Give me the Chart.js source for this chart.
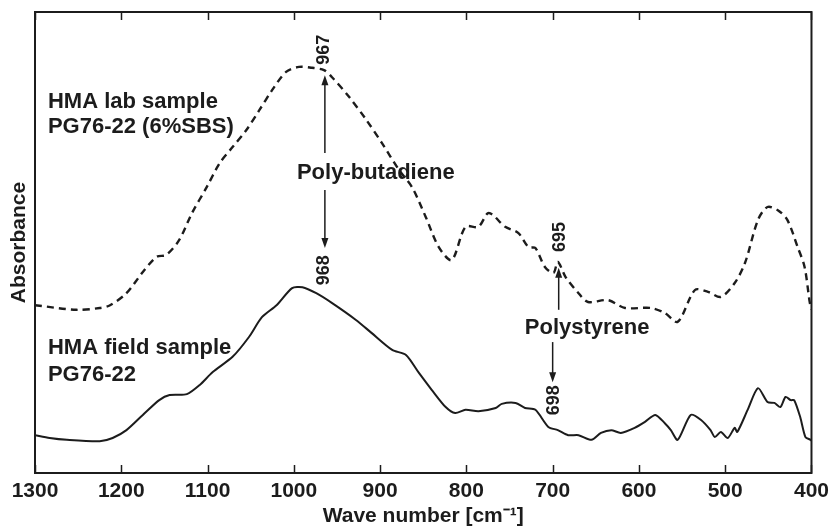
<!DOCTYPE html>
<html>
<head>
<meta charset="utf-8">
<script src="https://cdn.jsdelivr.net/npm/chart.js@4.4.1/dist/chart.umd.min.js"></script>
<style>
    body { margin: 0; background: #fff; }
    .wrap { width: 835px; height: 529px; }
</style>
</head>
<body>
<div class="wrap"><canvas id="ftir"></canvas></div>
<script>
    // wave numbers [cm-1] and absorbance (arbitrary units, 0-100)
    const labWave = [1300, 1252, 1225, 1213, 1194, 1175, 1159, 1148, 1133, 1118, 1101, 1086, 1071, 1055, 1040, 1025, 1009, 994, 979, 965, 956, 936, 916, 898, 878, 863, 847, 832, 817, 801, 786, 774, 755, 740, 728, 720, 709, 699, 694, 685, 670, 659, 636, 616, 586, 570, 555, 535, 520, 505, 489, 477, 462, 451, 439, 428, 416, 408, 402, 400];
    const labAbs = [36.4, 35.4, 35.8, 36.4, 39.0, 43.6, 46.9, 47.3, 50.5, 56.4, 62.0, 67.2, 70.7, 74.4, 78.7, 83.1, 87.0, 88.1, 87.9, 87.4, 85.9, 81.6, 76.6, 71.6, 65.7, 62.0, 55.5, 49.0, 46.2, 53.4, 53.4, 56.4, 53.4, 52.1, 49.0, 48.8, 44.7, 43.4, 45.8, 42.5, 39.0, 37.1, 37.5, 35.8, 35.8, 34.7, 32.8, 39.7, 39.3, 38.2, 41.2, 45.6, 54.9, 57.7, 57.0, 54.9, 49.0, 44.7, 37.0, 35.5];

    const fieldWave = [1300, 1283, 1263, 1225, 1210, 1194, 1175, 1156, 1144, 1124, 1109, 1094, 1071, 1052, 1037, 1020, 1002, 990, 974, 956, 928, 910, 886, 870, 855, 840, 824, 813, 801, 786, 766, 759, 743, 732, 720, 705, 694, 682, 670, 655, 644, 632, 621, 605, 593, 581, 570, 563, 555, 540, 528, 517, 512, 505, 497, 489, 486, 474, 462, 451, 443, 436, 430, 424, 420, 413, 407, 401, 400];
    const fieldAbs = [8.2, 7.6, 7.2, 6.9, 7.6, 9.3, 12.6, 15.8, 16.9, 17.1, 19.1, 21.9, 25.2, 29.5, 33.8, 36.4, 40.1, 40.3, 39.0, 36.9, 33.2, 30.4, 26.7, 25.6, 21.7, 18.0, 14.3, 13.0, 13.7, 13.4, 14.1, 15.0, 15.2, 14.1, 13.7, 10.0, 9.3, 8.2, 8.2, 7.2, 8.7, 9.3, 8.7, 9.8, 11.1, 12.6, 10.8, 9.3, 7.2, 12.6, 11.5, 9.3, 7.8, 8.9, 7.6, 9.8, 8.9, 13.7, 18.4, 15.4, 15.2, 14.3, 16.5, 15.8, 15.8, 12.1, 7.8, 7.2, 7.0];

    const xTicks = [1300, 1200, 1100, 1000, 900, 800, 700, 600, 500, 400];

    // text labels placed in data units [wave number, absorbance]
    const sampleLabels = [
        { text: "HMA lab sample", x: 1285, y: 80.5 },
        { text: "PG76-22 (6%SBS)", x: 1285, y: 75.0 },
        { text: "HMA field sample", x: 1285, y: 27.1 },
        { text: "PG76-22", x: 1285, y: 21.3 }
    ];
    const groupLabels = [
        { text: "Poly-butadiene", x: 905, y: 65.1 },
        { text: "Polystyrene", x: 660, y: 31.5 }
    ];
    const peakLabels = [
        { text: "967", x: 965, y: 91.8 },
        { text: "968", x: 965, y: 44.0 },
        { text: "695", x: 692, y: 51.2 },
        { text: "698", x: 698, y: 15.8 }
    ];
    // arrows: from [x, y0] to [x, y1], head at y1
    const arrows = [
        { x: 964, y0: 69.4, y1: 86.3 },
        { x: 964, y0: 61.4, y1: 48.8 },
        { x: 693, y0: 35.4, y1: 44.5 },
        { x: 700, y0: 28.4, y1: 19.7 }
    ];

    const ink = "#1c1c1c";
    const fontFam = "'Liberation Sans', Arial, sans-serif";

    function toPts(xs, ys) {
        return xs.map((v, i) => ({ x: v, y: ys[i] }));
    }

    const overlay = {
        id: "overlay",
        afterDatasetsDraw(chart) {
            const ctx = chart.ctx;
            const a = chart.chartArea;
            const xs = chart.scales.x, ys = chart.scales.y;
            ctx.save();
            // frame
            ctx.strokeStyle = ink;
            ctx.lineWidth = 2;
            ctx.strokeRect(a.left, a.top, a.right - a.left, a.bottom - a.top);
            // inward tick marks top and bottom
            ctx.lineWidth = 1.5;
            xTicks.forEach(t => {
                const px = Math.round(xs.getPixelForValue(t)) + 0.5;
                ctx.beginPath();
                ctx.moveTo(px, a.bottom);
                ctx.lineTo(px, a.bottom - 8);
                ctx.moveTo(px, a.top);
                ctx.lineTo(px, a.top + 8);
                ctx.stroke();
            });

            ctx.fillStyle = ink;
            ctx.textBaseline = "middle";
            ctx.font = "bold 22px " + fontFam;
            ctx.textAlign = "left";
            sampleLabels.forEach(l => {
                ctx.fillText(l.text, xs.getPixelForValue(l.x), ys.getPixelForValue(l.y));
            });
            ctx.textAlign = "center";
            groupLabels.forEach(l => {
                ctx.fillText(l.text, xs.getPixelForValue(l.x), ys.getPixelForValue(l.y));
            });
            ctx.font = "bold 18px " + fontFam;
            peakLabels.forEach(l => {
                ctx.save();
                ctx.translate(xs.getPixelForValue(l.x), ys.getPixelForValue(l.y));
                ctx.rotate(-Math.PI / 2);
                ctx.fillText(l.text, 0, 0);
                ctx.restore();
            });

            ctx.lineWidth = 1.5;
            arrows.forEach(ar => {
                const px = xs.getPixelForValue(ar.x);
                const p0 = ys.getPixelForValue(ar.y0);
                const p1 = ys.getPixelForValue(ar.y1);
                const dir = p1 < p0 ? -1 : 1;
                ctx.beginPath();
                ctx.moveTo(px, p0);
                ctx.lineTo(px, p1 - dir * 6);
                ctx.stroke();
                ctx.beginPath();
                ctx.moveTo(px, p1);
                ctx.lineTo(px - 3.5, p1 - dir * 10);
                ctx.lineTo(px + 3.5, p1 - dir * 10);
                ctx.closePath();
                ctx.fill();
            });
            ctx.restore();
        }
    };

    new Chart(document.getElementById("ftir"), {
        type: "line",
        data: {
            datasets: [{
                label: "HMA lab sample PG76-22 (6%SBS)",
                data: toPts(labWave, labAbs),
                borderColor: ink,
                borderWidth: 2.4,
                borderDash: [7, 5],
                pointRadius: 0,
                tension: 0.3,
                fill: false
            }, {
                label: "HMA field sample PG76-22",
                data: toPts(fieldWave, fieldAbs),
                borderColor: ink,
                borderWidth: 2,
                pointRadius: 0,
                tension: 0.25,
                fill: false
            }]
        },
        options: {
            responsive: true,
            maintainAspectRatio: false,
            animation: false,
            layout: { padding: { top: 12, right: 21, left: 0, bottom: 0 } },
            plugins: { legend: { display: false }, tooltip: { enabled: false } },
            scales: {
                x: {
                    type: "linear",
                    reverse: true,
                    min: 400,
                    max: 1300,
                    afterBuildTicks: s => { s.ticks = xTicks.map(v => ({ value: v })); },
                    afterFit: s => { s.height = 56; },
                    grid: { display: false, drawTicks: false },
                    border: { display: false },
                    ticks: {
                        padding: 6,
                        color: ink,
                        font: { family: fontFam, size: 21, weight: "bold" },
                        callback: v => String(v),
                        maxRotation: 0
                    },
                    title: {
                        display: true,
                        text: "Wave number [cm\u207B\u00B9]",
                        color: ink,
                        font: { family: fontFam, size: 21, weight: "bold" },
                        padding: { top: 0, bottom: 0 }
                    }
                },
                y: {
                    min: 0,
                    max: 100,
                    afterFit: s => { s.width = 35; },
                    grid: { display: false },
                    border: { display: false },
                    ticks: { display: false },
                    title: {
                        display: true,
                        text: "Absorbance",
                        color: ink,
                        font: { family: fontFam, size: 21, weight: "bold" },
                        padding: { top: 7, bottom: 0 }
                    }
                }
            }
        },
        plugins: [overlay]
    });
</script>
</body>
</html>
